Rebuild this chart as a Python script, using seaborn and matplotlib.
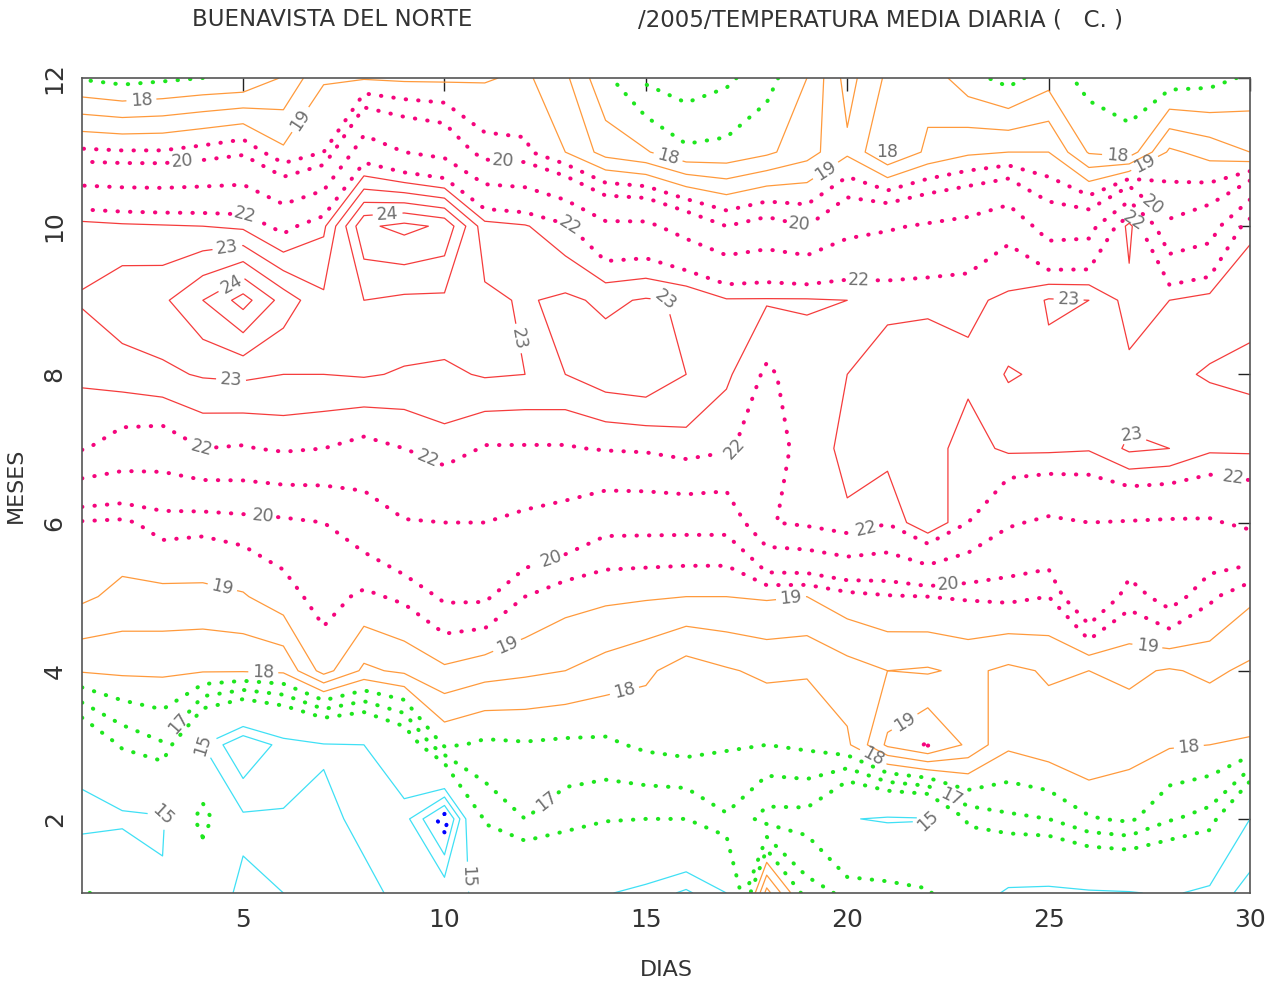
import numpy as np
import matplotlib
matplotlib.use("Agg")
import matplotlib.pyplot as plt
import seaborn as sns

# ------------------------------------------------------------
# Datos: temperatura media diaria (C)
# una lista por mes, 30 dias cada una
# ------------------------------------------------------------
dias = list(range(1, 31))
meses = list(range(1, 13))

t_m01 = [16.55, 16.3, 15.1, 15.3, 14.9, 15.0, 15.2, 15.1, 14.9, 14.85, 15.1, 15.3, 15.5, 15.05, 14.8,
         14.4, 15.0, 19.2, 17.2, 16.9, 16.8, 16.6, 15.6, 14.85, 14.8, 14.9, 14.95, 15.1, 14.8, 14.3]
t_m02 = [14.6, 14.8, 14.9, 16.9, 15.1, 15.05, 15.1, 14.9, 14.7, 13.2, 16.6, 17.0, 16.7, 16.55, 16.5,
         16.5, 16.95, 16.3, 16.3, 15.05, 14.9, 14.95, 16.6, 16.9, 17.0, 17.45, 17.6, 17.05, 16.8, 15.0]
t_m03 = [15.6, 16.6, 16.95, 15.0, 14.0, 14.7, 14.95, 15.0, 15.8, 17.6, 17.4, 17.45, 17.4, 17.4, 17.6,
         17.7, 17.55, 17.5, 17.6, 17.9, 19.1, 19.55, 18.9, 18.1, 18.3, 18.5, 18.2, 18.05, 18.0, 17.95]
t_m04 = [18.05, 18.1, 18.1, 18.05, 18.05, 18.1, 19.2, 18.4, 18.6, 18.9, 18.7, 18.6, 18.5, 18.3, 18.1,
         17.75, 17.95, 18.1, 18.05, 18.3, 18.5, 18.45, 18.6, 18.4, 18.55, 18.5, 18.6, 18.45, 18.6, 18.4]
t_m05 = [19.1, 18.85, 18.85, 18.85, 18.95, 19.3, 19.7, 19.4, 19.6, 20.1, 20.1, 19.5, 19.2, 19.1, 19.05,
         19.0, 19.0, 19.05, 19.0, 19.3, 19.45, 19.5, 19.55, 19.6, 19.5, 20.9, 19.7, 20.3, 19.6, 19.1]
t_m06 = [19.45, 19.4, 19.7, 19.65, 19.75, 19.85, 20.0, 20.4, 20.95, 21.0, 21.0, 20.8, 20.6, 20.2, 20.2,
         20.2, 20.2, 21.95, 22.15, 22.45, 22.05, 23.0, 22.0, 21.1, 20.85, 21.0, 20.95, 20.9, 20.9, 21.2]
t_m07 = [22.05, 21.7, 21.6, 22.0, 21.95, 22.1, 22.0, 21.8, 22.0, 22.3, 21.95, 21.95, 21.95, 22.05, 22.1,
         22.3, 22.1, 21.6, 22.3, 22.6, 22.7, 22.7, 22.3, 22.6, 22.6, 22.55, 23.1, 23.0, 22.6, 22.6]
t_m08 = [22.6, 22.75, 22.9, 23.05, 23.1, 23.0, 23.0, 23.05, 22.95, 22.9, 23.05, 23.0, 23.0, 23.3, 23.4,
         23.0, 22.6, 21.9, 22.3, 22.5, 22.7, 22.8, 22.6, 23.05, 22.9, 22.9, 22.6, 22.9, 23.05, 23.15]
t_m09 = [23.05, 23.35, 23.4, 24.0, 24.7, 23.8, 23.1, 23.5, 23.4, 23.4, 23.1, 22.95, 23.1, 22.9, 23.05,
         22.95, 22.55, 22.55, 22.55, 22.5, 22.4, 22.4, 22.4, 22.6, 23.05, 23.0, 22.3, 22.5, 22.7, 22.8]
t_m10 = [22.7, 22.6, 22.55, 22.5, 22.4, 21.8, 22.4, 24.4, 24.65, 24.4, 22.7, 22.55, 22.1, 21.2, 21.2,
         20.6, 20.0, 20.3, 20.0, 20.7, 20.9, 21.1, 21.3, 21.8, 20.5, 20.6, 22.7, 20.1, 20.5, 22.4]
t_m11 = [19.6, 19.55, 19.55, 19.7, 19.9, 19.1, 19.5, 21.6, 21.0, 20.7, 19.7, 19.6, 19.0, 18.3, 18.05,
         17.6, 17.65, 17.9, 18.3, 18.9, 18.0, 18.6, 18.9, 19.0, 19.0, 17.95, 17.7, 19.1, 18.8, 18.5]
t_m12 = [17.45, 17.3, 17.4, 17.5, 17.55, 18.05, 18.95, 18.95, 18.9, 18.9, 18.95, 19.1, 18.6, 17.6, 16.9,
         16.7, 16.9, 17.3, 18.0, 19.2, 18.4, 18.3, 17.7, 17.3, 17.8, 17.3, 17.2, 17.2, 17.3, 17.6]

# niveles de contorno por grupo de color
niv_azul = [13.5]
niv_cian = [14, 14.5, 15]
niv_verde = [16.5, 17, 17.5]
niv_naranja = [18, 18.5, 19]
niv_rosa = [19.5, 20, 21, 22]
niv_rojo = [22.5, 23, 23.5, 24, 24.5]

titulo_1 = "BUENAVISTA DEL NORTE"
titulo_2 = "/2005/TEMPERATURA MEDIA DIARIA (   C. )"

# donde van las etiquetas de cada nivel (dia, mes)
pos_etiquetas = {
    15: [(3.9, 3.1), (3.6, 2.35), (22.1, 1.85), (9.6, 1.2)],
    17: [(3.4, 3.3), (12.5, 2.26), (22.5, 2.19)],
    18: [(2.5, 11.47), (15.55, 10.93), (21.2, 10.96), (26.7, 10.96), (5.5, 3.96),
         (14.3, 4.1), (20.5, 2.69), (28.5, 2.86)],
    19: [(6.5, 11.41), (19.5, 10.72), (27.4, 10.83), (4.5, 5.16), (11.5, 4.41),
         (18.6, 5.0), (27.5, 4.55), (21.4, 3.33)],
    20: [(3.5, 10.83), (11.45, 10.85), (18.8, 9.98), (27.5, 10.22), (5.5, 6.12),
         (12.55, 5.67), (22.5, 5.29)],
    22: [(5.05, 10.15), (13.16, 10.06), (20.3, 9.5), (27.2, 10.12), (3.9, 6.95),
         (9.5, 6.75), (17.3, 6.95), (20.5, 5.86), (29.5, 6.3)],
    23: [(4.6, 9.75), (15.5, 9.07), (11.9, 8.49), (25.5, 9.07), (27.3, 7.52), (4.7, 7.92)],
    24: [(8.6, 10.06), (4.7, 9.23)],
}

# ------------------------------------------------------------
sns.set_style("white")
plt.rcParams["font.family"] = ["DejaVu Sans"]

temp = np.array([t_m01, t_m02, t_m03, t_m04, t_m05, t_m06,
                 t_m07, t_m08, t_m09, t_m10, t_m11, t_m12])

fig = plt.figure(figsize=(12.76, 9.81), dpi=100)
ax = fig.add_axes([82 / 1276, 1 - 893 / 981, (1250 - 82) / 1276, (893 - 78) / 981])

punteado = (0, (0.1, 3.0))
grupos = [
    (niv_azul, "#0000ff", "dotted"),
    (niv_cian, "#3fe0f5", "solid"),
    (niv_verde, "#1ee61e", "dotted"),
    (niv_naranja, "#ff9a3c", "solid"),
    (niv_rosa, "#f5057d", "dotted"),
    (niv_rojo, "#f53c3c", "solid"),
]

# una llamada a contour por nivel, asi cada etiqueta va a su linea
for niveles, color, estilo in grupos:
    for nivel in niveles:
        if estilo == "dotted":
            cs = ax.contour(dias, meses, temp, levels=[nivel], colors=color,
                            linewidths=2.9, linestyles=[punteado])
            cs.set_capstyle("round")
        else:
            cs = ax.contour(dias, meses, temp, levels=[nivel], colors=color,
                            linewidths=0.9, linestyles="solid")
        if nivel in pos_etiquetas and len(cs.allsegs[0]) > 0:
            ax.clabel(cs, fmt="%d", fontsize=12.5, colors="#707070",
                      inline=True, inline_spacing=4,
                      manual=pos_etiquetas[nivel])

ax.set_xlim(1, 30)
ax.set_ylim(1, 12)
ax.set_xticks([5, 10, 15, 20, 25, 30])
ax.set_yticks([2, 4, 6, 8, 10, 12])
ax.tick_params(direction="in", length=9, width=1, top=True, right=True,
               labelsize=18, labelcolor="#333333", color="#222222", pad=11)
for lab in ax.get_yticklabels():
    lab.set_rotation(90)
    lab.set_va("center")
for s in ax.spines.values():
    s.set_color("#555555")
    s.set_linewidth(1.2)

ax.set_xlabel("DIAS", fontsize=16, color="#333333", labelpad=20)
ax.set_ylabel("MESES", fontsize=16, color="#333333", labelpad=12)

fig.text(332 / 1276, 1 - 20 / 981, titulo_1, ha="center", va="center",
         fontsize=16.5, color="#333333")
fig.text(881 / 1276, 1 - 20 / 981, titulo_2, ha="center", va="center",
         fontsize=16.5, color="#333333")

fig.savefig("out.png", dpi=100)
